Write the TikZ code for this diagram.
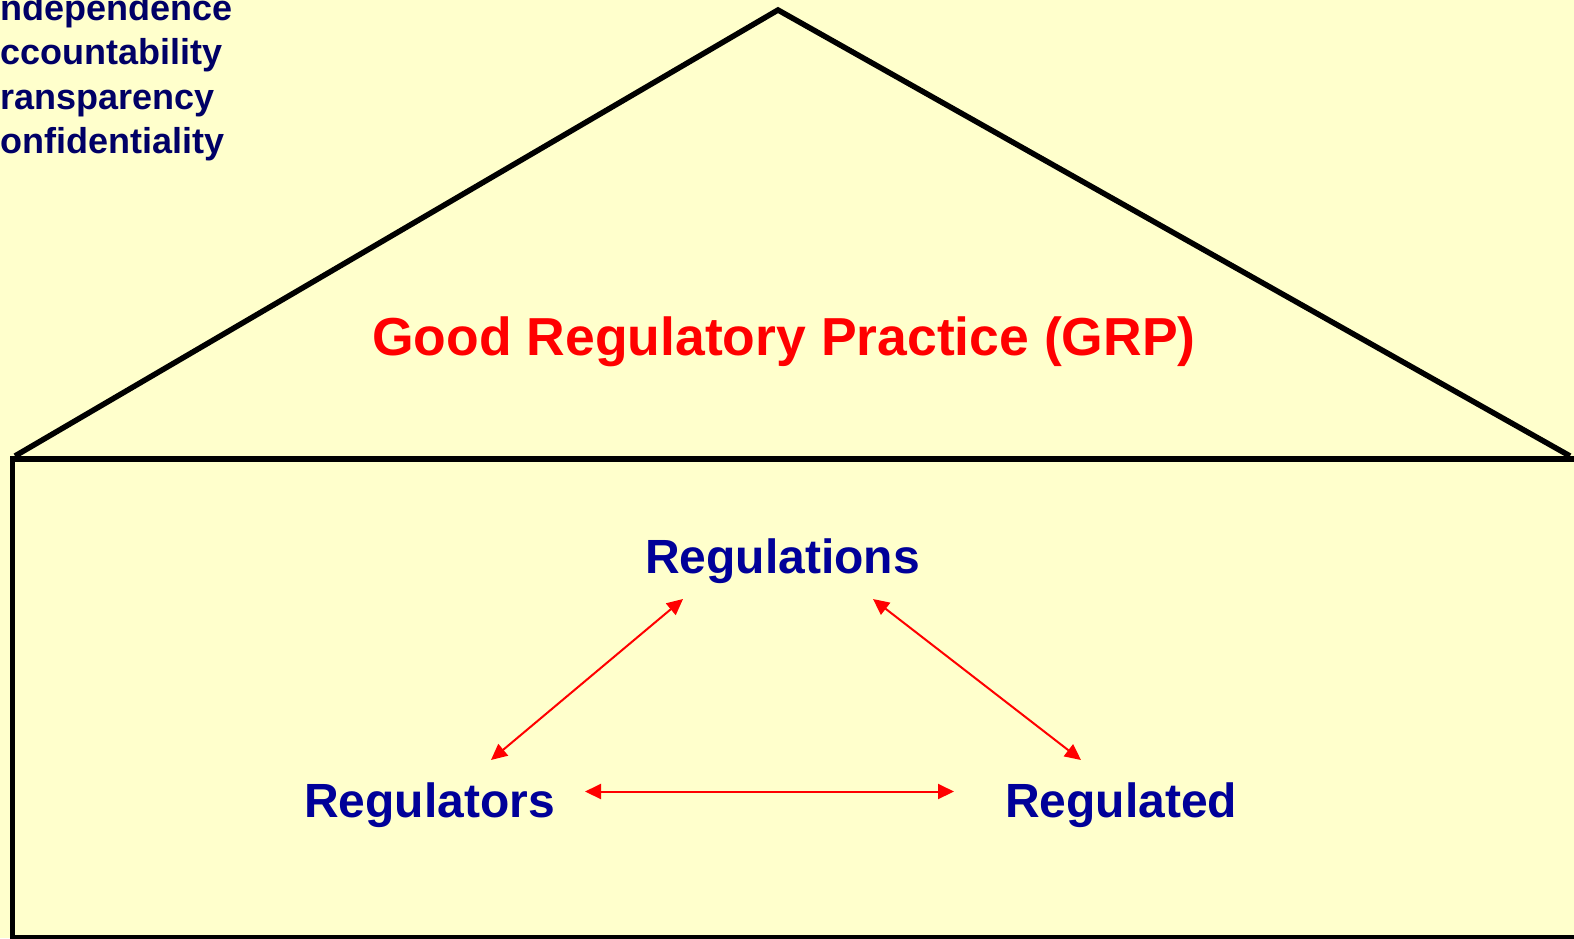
\documentclass[tikz,border=0pt]{standalone}
\usepackage{fontspec}
\setmainfont{Liberation Sans}
\usetikzlibrary{arrows.meta}
\definecolor{bg}{HTML}{FFFFCC}
\definecolor{navy}{HTML}{000066}
\definecolor{dblue}{HTML}{000099}
\definecolor{rred}{HTML}{FF0000}
\tikzset{
  house/.style={line width=5.5pt, black, line join=miter},
  link/.style={rred, line width=2pt, {Triangle[length=16pt,width=15pt]}-{Triangle[length=16pt,width=15pt]}},
  lbl/.style={inner sep=0pt, anchor=base west, font=\bfseries\fontsize{48}{56}\selectfont, text=dblue},
  side/.style={inner sep=0pt, anchor=base west, font=\bfseries\fontsize{36}{44}\selectfont, text=navy}
}
\begin{document}
\begin{tikzpicture}[x=1pt,y=-1pt]
\fill[bg] (0,0) rectangle (1574,938);
\useasboundingbox (0,0) rectangle (1574,938);
\begin{scope}
\clip (0,0) rectangle (1574,938);
\coordinate (bl) at (12.5,950);
\coordinate (tl) at (12.5,459);
\coordinate (tr) at (1590,459);
\coordinate (rl) at (15,456);
\coordinate (apex) at (778,10);
\coordinate (rr) at (1570,456);
\coordinate (br) at (1590,937.5);
\coordinate (bb) at (12.5,937.5);
\draw[house] (bl) -- (tl) -- (tr);
\draw[house] (bb) -- (br);
\draw[house] (rl) -- (apex) -- (rr);
\end{scope}

\node[side] (l1) at (0,20) {ndependence};
\node[side] (l2) at (0,64) {ccountability};
\node[side] (l3) at (0,109) {ransparency};
\node[side] (l4) at (0,153) {onfidentiality};

\node[inner sep=0pt, anchor=base west, font=\bfseries\fontsize{53.5}{62}\selectfont, text=rred] (grp) at (372,355) {Good Regulatory Practice (GRP)};

\node[lbl] (regs) at (645,573) {Regulations};
\node[lbl] (regr) at (304,817) {Regulators};
\node[lbl] (regd) at (1005,817) {Regulated};

\coordinate (a1s) at (491,760);
\coordinate (a1e) at (683,599);
\coordinate (a2s) at (873,599);
\coordinate (a2e) at (1081,760);
\coordinate (a3s) at (585,791.5);
\coordinate (a3e) at (954,791.5);
\draw[link] (a1s) -- (a1e);
\draw[link] (a2s) -- (a2e);
\draw[link] (a3s) -- (a3e);
\end{tikzpicture}
\end{document}
